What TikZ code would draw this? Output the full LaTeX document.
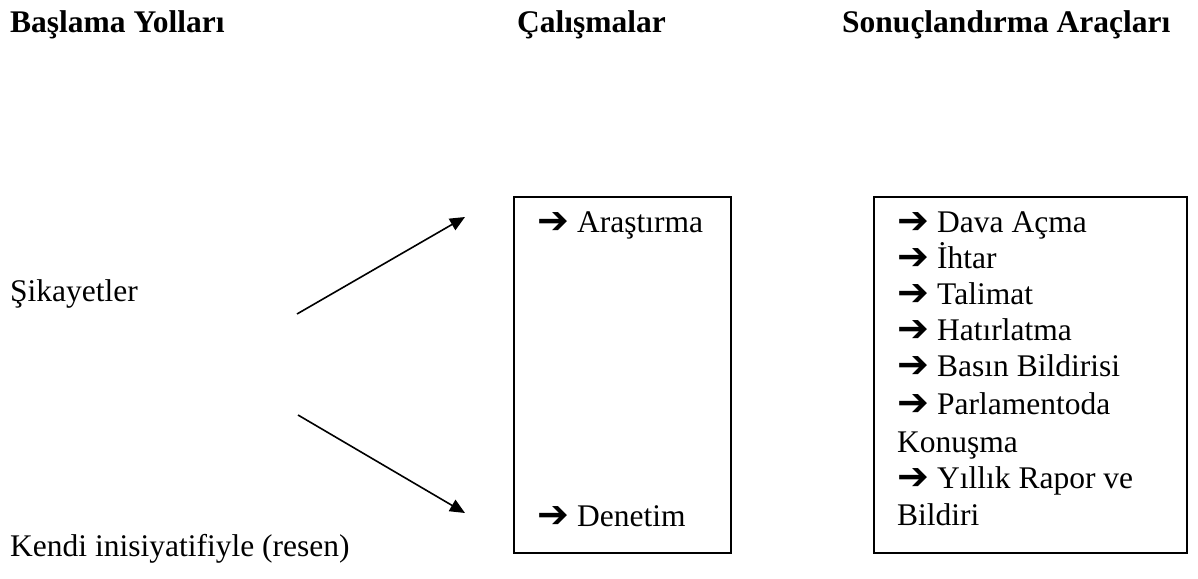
\documentclass[tikz,border=0pt]{standalone}
\usepackage{fontspec}
\setmainfont{Liberation Serif}
\newfontfamily\symfont{DejaVu Sans}
\usetikzlibrary{arrows.meta}
\newcommand\bigarrow{\makebox[40pt][l]{\raisebox{-1pt}{\symfont\bfseries\fontsize{38}{38}\selectfont\char"2794}}}
\tikzset{
  txt/.style={inner sep=0pt, anchor=base west, font=\fontsize{31.5}{36.6}\selectfont},
  head/.style={txt, font=\fontsize{31.5}{36.6}\selectfont\bfseries},
  box/.style={draw, line width=1.6pt, inner sep=0pt},
  flow/.style={line width=1.6pt, -{Triangle[length=15pt,width=13pt]}}
}
\begin{document}
\begin{tikzpicture}[x=1pt,y=-1pt]
\useasboundingbox (0,0) rectangle (1198,578);
% headers
\node[head] (h1) at (10,33) {Başlama Yolları};
\node[head] (h2) at (517,33) {Çalışmalar};
\node[head] (h3) at (842,33) {Sonuçlandırma Araçları};
% left labels
\node[txt] (sik) at (10,301) {Şikayetler};
\node[txt] (ken) at (10,556) {Kendi inisiyatifiyle (resen)};
% boxes
\node[box, minimum width=217pt, minimum height=356pt, anchor=north west] (b1) at (513,196) {};
\node[box, minimum width=313pt, minimum height=356pt, anchor=north west] (b2) at (873,196) {};
% box 1 contents
\node[txt] (c1) at (537,232) {\bigarrow Araştırma};
\node[txt] (c2) at (537,526) {\bigarrow Denetim};
% box 2 contents
\node[txt] (r1) at (897,232) {\bigarrow Dava Açma};
\node[txt] (r2) at (897,268) {\bigarrow İhtar};
\node[txt] (r3) at (897,304) {\bigarrow Talimat};
\node[txt] (r4) at (897,340) {\bigarrow Hatırlatma};
\node[txt] (r5) at (897,376) {\bigarrow Basın Bildirisi};
\node[txt] (r6) at (897,414) {\bigarrow Parlamentoda};
\node[txt] (r7) at (897,452) {Konuşma};
\node[txt] (r8) at (897,488) {\bigarrow Yıllık Rapor ve};
\node[txt] (r9) at (897,525) {Bildiri};
% connectors
\coordinate (s1) at (297,314);
\coordinate (e1) at (465,217);
\coordinate (s2) at (298,415);
\coordinate (e2) at (465,513);
\draw[flow] (s1) -- (e1);
\draw[flow] (s2) -- (e2);
\end{tikzpicture}
\end{document}
